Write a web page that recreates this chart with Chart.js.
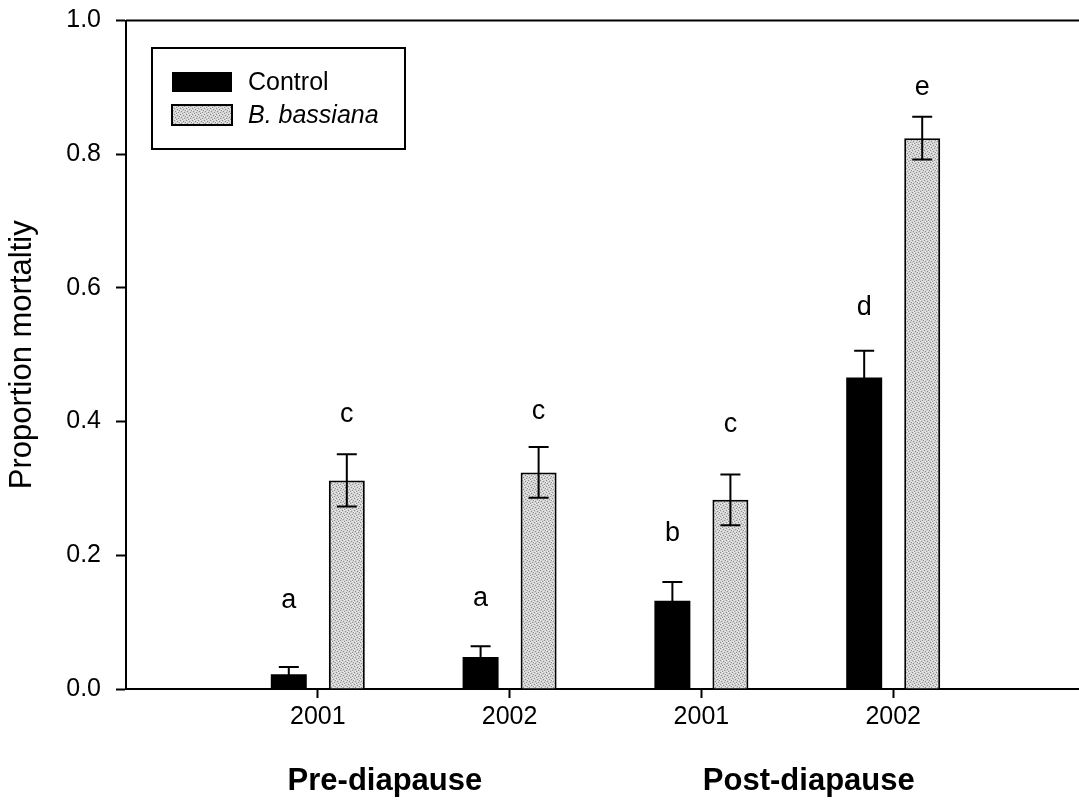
<!DOCTYPE html>
<html>
<head>
<meta charset="utf-8">
<script src="https://cdn.jsdelivr.net/npm/chart.js@4.4.1/dist/chart.umd.min.js"></script>
<style>
  html, body { margin: 0; padding: 0; background: #fff; overflow: hidden; }
  #wrap { width: 1085px; height: 804px; }
</style>
</head>
<body>
<div id="wrap"><canvas id="chart" width="1085" height="804"></canvas></div>
<script>
// mortality per treatment, year and diapause stage
const years = ['2001', '2002', '2001', '2002'];
const positions = [1, 2, 3, 4];
const controlMean = [0.022, 0.048, 0.132, 0.466];
const controlErr = [0.011, 0.016, 0.028, 0.040];
const bassianaMean = [0.312, 0.324, 0.283, 0.824];
const bassianaErr = [0.039, 0.038, 0.038, 0.032];
// significance letters and the height they sit at
const controlLetters = ['a', 'a', 'b', 'd'];
const controlLetterAt = [0.133, 0.136, 0.233, 0.570];
const bassianaLetters = ['c', 'c', 'c', 'e'];
const bassianaLetterAt = [0.410, 0.415, 0.396, 0.900];
const groupNames = ['Pre-diapause', 'Post-diapause'];
const groupAt = [1.35, 3.56];
const yTicks = [0, 0.2, 0.4, 0.6, 0.8, 1.0];

const FONT = '"Liberation Sans", Arial, Helvetica, sans-serif';
const canvas = document.getElementById('chart');
const ctx = canvas.getContext('2d');

// grey stipple used for the B. bassiana bars
function stipple() {
    const c = document.createElement('canvas');
    c.width = 6; c.height = 6;
    const g = c.getContext('2d');
    g.fillStyle = '#d2d2d2';
    g.fillRect(0, 0, 6, 6);
    g.fillStyle = '#8e8e8e';
    [[0, 0], [3, 1], [1, 3], [4, 4], [2, 5], [5, 2]].forEach(p => g.fillRect(p[0], p[1], 1, 1));
    g.fillStyle = '#f0f0f0';
    [[2, 0], [5, 1], [0, 2], [3, 3], [1, 5], [4, 5]].forEach(p => g.fillRect(p[0], p[1], 1, 1));
    return ctx.createPattern(c, 'repeat');
}
const grey = stipple();

const toPoints = vals => positions.map((x, i) => ({ x: x, y: vals[i] }));

const errorBars = {
    id: 'errorBars',
    afterDatasetsDraw(chart) {
        const c = chart.ctx;
        const y = chart.scales.y;
        c.save();
        c.strokeStyle = '#000';
        c.lineWidth = 2;
        chart.data.datasets.forEach((ds, di) => {
            const meta = chart.getDatasetMeta(di);
            meta.data.forEach((bar, i) => {
                const v = ds.data[i].y, e = ds.errors[i];
                const top = y.getPixelForValue(v + e);
                const bot = y.getPixelForValue(v - e);
                c.beginPath();
                c.moveTo(bar.x, top); c.lineTo(bar.x, bot);
                c.moveTo(bar.x - 10, top); c.lineTo(bar.x + 10, top);
                c.moveTo(bar.x - 10, bot); c.lineTo(bar.x + 10, bot);
                c.stroke();
            });
        });
        c.restore();
    }
};

const letters = {
    id: 'letters',
    afterDatasetsDraw(chart) {
        const c = chart.ctx;
        const y = chart.scales.y;
        c.save();
        c.fillStyle = '#000';
        c.font = '27px ' + FONT;
        c.textAlign = 'center';
        c.textBaseline = 'middle';
        chart.data.datasets.forEach((ds, di) => {
            chart.getDatasetMeta(di).data.forEach((bar, i) => {
                c.fillText(ds.letters[i], bar.x, y.getPixelForValue(ds.letterAt[i]));
            });
        });
        c.restore();
    }
};

const frame = {
    id: 'frame',
    afterDraw(chart) {
        const c = chart.ctx, a = chart.chartArea;
        c.save();
        c.strokeStyle = '#000';
        c.lineWidth = 2;
        c.beginPath();
        c.moveTo(a.left, a.top);
        c.lineTo(a.right, a.top);
        c.stroke();

        // legend box
        const lx = a.left + 26, ly = a.top + 27.5, lw = 253, lh = 101;
        c.lineWidth = 2;
        c.strokeRect(lx, ly, lw, lh);
        c.textBaseline = 'middle';
        c.textAlign = 'left';
        chart.data.datasets.forEach((ds, i) => {
            const sy = ly + 24 + i * 33;
            c.fillStyle = ds.backgroundColor;
            c.fillRect(lx + 20, sy, 60, 20);
            if (ds.borderWidth) {
                c.lineWidth = 2;
                c.strokeRect(lx + 20, sy, 60, 20);
            }
            c.fillStyle = '#000';
            c.font = (ds.italicLabel ? 'italic ' : '') + '25px ' + FONT;
            c.fillText(ds.label, lx + 96, sy + 11);
        });

        // stage labels under the years
        c.font = 'bold 31px ' + FONT;
        c.textAlign = 'center';
        c.textBaseline = 'alphabetic';
        groupNames.forEach((g, i) => {
            c.fillText(g, chart.scales.x.getPixelForValue(groupAt[i]), 790);
        });
        c.restore();
    }
};

new Chart(ctx, {
    type: 'bar',
    data: {
        datasets: [
            {
                label: 'Control',
                data: toPoints(controlMean),
                errors: controlErr,
                letters: controlLetters,
                letterAt: controlLetterAt,
                backgroundColor: '#000',
                borderWidth: 0
            },
            {
                label: 'B. bassiana',
                italicLabel: true,
                data: toPoints(bassianaMean),
                errors: bassianaErr,
                letters: bassianaLetters,
                letterAt: bassianaLetterAt,
                backgroundColor: grey,
                borderColor: '#000',
                borderWidth: 2,
                borderSkipped: 'bottom'
            }
        ]
    },
    options: {
        responsive: false,
        animation: false,
        layout: { padding: { top: 20.5, right: 0, bottom: 0, left: 0 } },
        datasets: { bar: { categoryPercentage: 0.605, barPercentage: 0.62 } },
        plugins: { legend: { display: false }, tooltip: { enabled: false } },
        scales: {
            x: {
                type: 'linear',
                min: 0,
                max: 5,
                offset: false,
                afterBuildTicks: s => { s.ticks = positions.map(v => ({ value: v })); },
                afterFit: s => { s.height = 115; },
                ticks: {
                    callback: (v, i) => years[i],
                    color: '#000',
                    font: { family: FONT, size: 25 },
                    padding: 4,
                    maxRotation: 0,
                    autoSkip: false
                },
                grid: { drawOnChartArea: false, offset: false, tickLength: 9, tickWidth: 2, tickColor: '#000' },
                border: { color: '#000', width: 2 }
            },
            y: {
                min: 0,
                max: 1,
                afterBuildTicks: s => { s.ticks = yTicks.map(v => ({ value: v })); },
                afterFit: s => {
                    s.width = 126;
                    // keep the top tick label from pushing the plot down
                    s.paddingTop = 0;
                    s.paddingBottom = 0;
                },
                ticks: {
                    callback: v => v.toFixed(1),
                    color: '#000',
                    font: { family: FONT, size: 25 },
                    padding: 15
                },
                grid: { drawOnChartArea: false, tickLength: 10, tickWidth: 2, tickColor: '#000' },
                border: { color: '#000', width: 2 },
                title: {
                    display: true,
                    text: 'Proportion mortaltiy',
                    color: '#000',
                    font: { family: FONT, size: 31 },
                    padding: { top: 4, bottom: 0 }
                }
            }
        }
    },
    plugins: [errorBars, letters, frame]
});
</script>
</body>
</html>
